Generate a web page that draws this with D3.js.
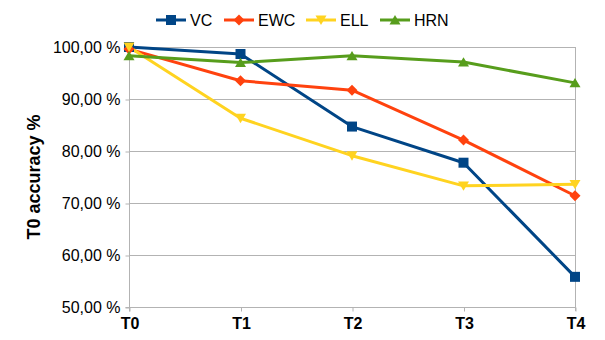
<!DOCTYPE html>
<html>
<head>
<meta charset="utf-8">
<script src="https://cdn.jsdelivr.net/npm/d3@7"></script>
<style>
html,body{margin:0;padding:0;background:#fff;}
svg{display:block;font-family:"Liberation Sans",Arial,sans-serif;}
</style>
</head>
<body>
<svg id="chart" width="605" height="340"></svg>
<script>
const categories = ["T0","T1","T2","T3","T4"];
const seriesNames = ["VC","EWC","ELL","HRN"];
const vcValues  = [100.0, 98.65, 84.7, 77.75, 55.8];
const ewcValues = [99.6, 93.5, 91.7, 82.1, 71.4];
const ellValues = [100.0, 86.3, 79.1, 73.3, 73.6];
const hrnValues = [98.3, 97.0, 98.3, 97.1, 93.1];
const yTicks = [50,60,70,80,90,100];
const colors = ["#004586","#ff420e","#ffd320","#579d1c"];
const markers = ["square","diamond","triangleDown","triangleUp"];
const yTitle = "T0 accuracy %";

const series = [vcValues, ewcValues, ellValues, hrnValues].map((v,i)=>({name:seriesNames[i], values:v, color:colors[i], marker:markers[i]}));

const svg = d3.select("#chart");
const margin = {left:129, right:30, top:47, bottom:33};
const W = 605, H = 340;
const x = d3.scalePoint().domain(categories).range([margin.left, W - margin.right]);
const y = d3.scaleLinear().domain([50,100]).range([H - margin.bottom, margin.top]);

const fmt = v => d3.format(".2f")(v).replace(".", ",") + " %";

// gridlines
svg.append("g").selectAll("line").data(yTicks).join("line")
  .attr("x1", margin.left).attr("x2", W - margin.right)
  .attr("y1", d=>y(d)+0.5).attr("y2", d=>y(d)+0.5)
  .attr("stroke", "#b3b3b3").attr("stroke-width", 1);

// y axis
const yAxis = d3.axisLeft(y).tickValues(yTicks).tickFormat(fmt).tickSize(4).tickPadding(5);
const gy = svg.append("g").attr("transform", `translate(${margin.left+0.5},0.5)`).call(yAxis);
gy.select(".domain").attr("stroke","#b3b3b3").attr("d", `M0,${y(100)-0.5}V${y(50)+4}`);
gy.selectAll(".tick line").attr("stroke","#b3b3b3");
gy.selectAll(".tick text").attr("font-size", 16).attr("fill","#000").attr("font-family","Liberation Sans, Arial, sans-serif");

// x axis
const xAxis = d3.axisBottom(x).tickSize(4).tickPadding(6);
const gx = svg.append("g").attr("transform", `translate(0.5,${y(50)+0.5})`).call(xAxis);
gx.select(".domain").attr("stroke","#b3b3b3").attr("d", `M${margin.left-4},0H${W-margin.right}`);
gx.selectAll(".tick line").attr("stroke","#b3b3b3");
gx.selectAll(".tick text").attr("font-size", 16).attr("font-weight","bold").attr("fill","#000").attr("font-family","Liberation Sans, Arial, sans-serif");

// right border line
svg.append("line").attr("x1", W-margin.right+0.5).attr("x2", W-margin.right+0.5)
  .attr("y1", y(100)).attr("y2", y(50)+4).attr("stroke","#b3b3b3");

// y title
svg.append("text").attr("transform", `translate(40,${(y(100)+y(50))/2}) rotate(-90)`)
  .attr("text-anchor","middle").attr("font-size", 18).attr("font-weight","bold").text(yTitle);

function markerPath(type, size) {
  const s = size/2;
  switch(type) {
    case "square": return `M${-s},${-s}H${s}V${s}H${-s}Z`;
    case "diamond": return `M0,${-s}L${s},0L0,${s}L${-s},0Z`;
    case "triangleDown": return `M${-s},${-s*0.8}H${s}L0,${s*0.9}Z`;
    case "triangleUp": return `M${-s},${s*0.8}H${s}L0,${-s*0.9}Z`;
  }
}

const line = d3.line().x((d,i)=>x(categories[i])).y(d=>y(d));
const gs = svg.append("g");
series.forEach(s => {
  gs.append("path").attr("d", line(s.values)).attr("fill","none")
    .attr("stroke", s.color).attr("stroke-width", 3).attr("stroke-linejoin","round");
});
series.forEach(s => {
  gs.append("g").selectAll("path").data(s.values).join("path")
    .attr("transform", (d,i)=>`translate(${x(categories[i])},${y(d)})`)
    .attr("d", markerPath(s.marker, s.marker==="square"?10:11))
    .attr("fill", s.color);
});

// legend
const legendX = [156, 224, 306, 380];
const lg = svg.append("g");
series.forEach((s,i) => {
  const g = lg.append("g").attr("transform", `translate(${legendX[i]},20)`);
  g.append("line").attr("x1",0).attr("x2",30).attr("y1",0).attr("y2",0).attr("stroke",s.color).attr("stroke-width",3);
  g.append("path").attr("transform","translate(15,0)").attr("d", markerPath(s.marker, s.marker==="square"?10:11)).attr("fill", s.color);
  g.append("text").attr("x",34).attr("y",6).attr("font-size",16).text(s.name);
});
</script>
</body>
</html>
